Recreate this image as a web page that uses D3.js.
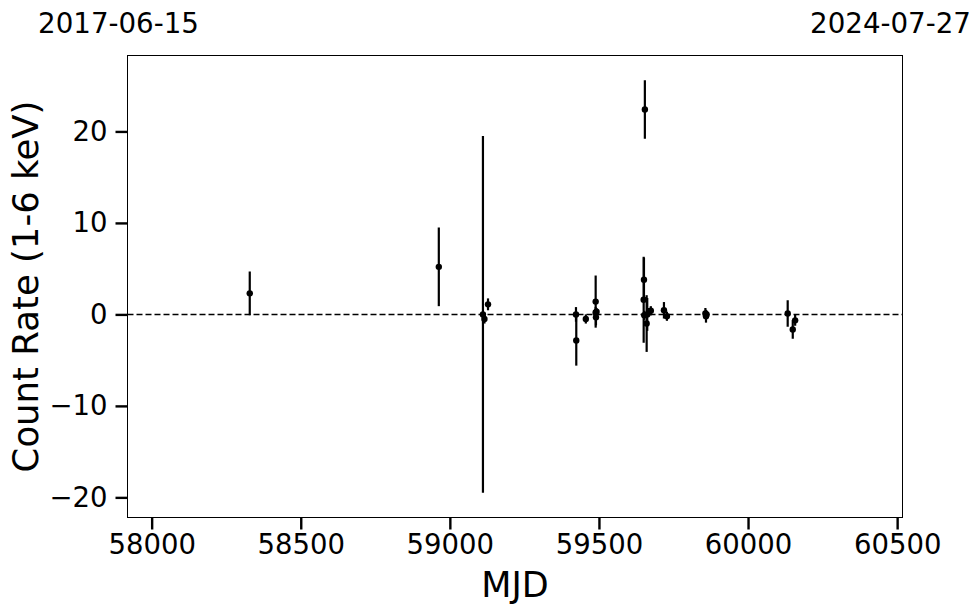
<!DOCTYPE html>
<html>
<head>
<meta charset="utf-8">
<script src="https://cdn.jsdelivr.net/npm/d3@7/dist/d3.min.js"></script>
<style>
  html, body { margin: 0; padding: 0; background: #fff; }
  svg { display: block; font-family: "DejaVu Sans", sans-serif; }
</style>
</head>
<body>
<svg id="chart" width="980" height="613"></svg>
<script>
// ---- data ----
const mjd  = [58329, 58963, 59111, 59116, 59128, 59423, 59424, 59456, 59489, 59489, 59490, 59492,
              59654, 59651, 59650, 59652, 59660, 59662, 59668, 59674, 59718, 59728,
              59857, 59859, 59861, 60133, 60150, 60158];
const rate = [2.3, 5.2, 0.0, -0.5, 1.1, 0.0, -2.85, -0.5, 1.4, 0.2, -0.3, 0.3,
              22.4, 3.8, 1.6, -0.1, -1.0, 0.0, 0.3, 0.4, 0.45, -0.2,
              0.1, -0.2, 0.0, 0.1, -1.65, -0.65];
const err  = [2.4, 4.3, 19.5, 0.5, 0.65, 0.8, 2.75, 0.5, 2.85, 0.6, 0.9, 0.4,
              3.2, 2.4, 4.7, 0.5, 3.1, 1.8, 0.4, 0.5, 0.9, 0.5,
              0.6, 0.7, 0.4, 1.45, 1.0, 0.6];
const xTicks = [58000, 58500, 59000, 59500, 60000, 60500];
const yTicks = [-20, -10, 0, 10, 20];
const xDomain = [57919, 60518];
const yDomain = [-22.2, 28.3];
const dateLabels = ["2017-06-15", "2024-07-27"];
const xLabel = "MJD";
const yLabel = "Count Rate (1-6 keV)";

const points = mjd.map((m, i) => ({ m, r: rate[i], e: err[i] }));

// ---- layout ----
const L = 127.5, R = 902.5, T = 55.5, B = 517.5;
const svg = d3.select("#chart");
const x = d3.scaleLinear().domain(xDomain).range([L, R]);
const y = d3.scaleLinear().domain(yDomain).range([B, T]);

const fmt = d => (d < 0 ? "\u2212" + Math.abs(d) : String(d));

// x axis
const xAxis = svg.append("g").attr("transform", `translate(0,${B})`)
  .call(d3.axisBottom(x).tickValues(xTicks).tickFormat(d => String(d)).tickSize(12).tickPadding(5));
xAxis.select(".domain").remove();
xAxis.selectAll(".tick line").attr("stroke", "#000").attr("stroke-width", 2.4);
xAxis.selectAll(".tick text").attr("font-size", 27.5).attr("fill", "#000")
  .attr("font-family", "DejaVu Sans, sans-serif");

// y axis
const yAxis = svg.append("g").attr("transform", `translate(${L},0)`)
  .call(d3.axisLeft(y).tickValues(yTicks).tickFormat(fmt).tickSize(12).tickPadding(8));
yAxis.select(".domain").remove();
yAxis.selectAll(".tick line").attr("stroke", "#000").attr("stroke-width", 2.4);
yAxis.selectAll(".tick text").attr("font-size", 27.5).attr("fill", "#000")
  .attr("font-family", "DejaVu Sans, sans-serif");

// clip
svg.append("clipPath").attr("id", "clip").append("rect")
  .attr("x", L).attr("y", T).attr("width", R - L).attr("height", B - T);
const plot = svg.append("g").attr("clip-path", "url(#clip)");

// zero dashed line
plot.append("line")
  .attr("x1", L).attr("x2", R).attr("y1", y(0)).attr("y2", y(0))
  .attr("stroke", "#000").attr("stroke-width", 1.5).attr("stroke-dasharray", "6,3");

// error bars
plot.selectAll("line.err").data(points).join("line").attr("class", "err")
  .attr("x1", d => x(d.m)).attr("x2", d => x(d.m))
  .attr("y1", d => y(d.r - d.e)).attr("y2", d => y(d.r + d.e))
  .attr("stroke", "#000").attr("stroke-width", 2.2);

// markers
plot.selectAll("circle").data(points).join("circle")
  .attr("cx", d => x(d.m)).attr("cy", d => y(d.r)).attr("r", 3.2)
  .attr("fill", "#000");

// frame
svg.append("rect").attr("x", L).attr("y", T).attr("width", R - L).attr("height", B - T)
  .attr("fill", "none").attr("stroke", "#000").attr("stroke-width", 1);

// labels
svg.append("text").attr("x", (L + R) / 2).attr("y", 597).attr("text-anchor", "middle")
  .attr("font-size", 35).attr("fill", "#000").text(xLabel);
svg.append("text").attr("transform", `translate(38,${(T + B) / 2}) rotate(-90)`)
  .attr("text-anchor", "middle").attr("font-size", 35.5).attr("fill", "#000").text(yLabel);

// top date labels
svg.append("text").attr("x", x(xDomain[0]) - 9).attr("y", 33).attr("text-anchor", "middle")
  .attr("font-size", 27.7).attr("fill", "#000").text(dateLabels[0]);
svg.append("text").attr("x", x(xDomain[1]) - 12).attr("y", 33).attr("text-anchor", "middle")
  .attr("font-size", 27.7).attr("fill", "#000").text(dateLabels[1]);
</script>
</body>
</html>
